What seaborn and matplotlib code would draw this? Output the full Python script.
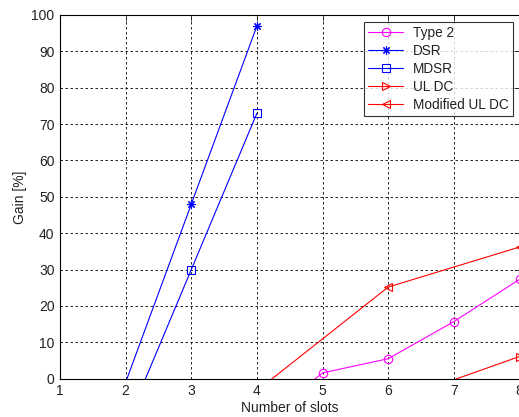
import matplotlib
matplotlib.use("Agg")
import matplotlib.pyplot as plt
import numpy as np
import pandas as pd
import seaborn as sns

# Data (points below 0 are clipped, as in the original)
slots_type2 = [4, 5, 6, 7, 8]
gain_type2 = [-13.0, 1.6, 5.5, 15.7, 27.3]

slots_dsr = [2, 3, 4]
gain_dsr = [-1.0, 48.0, 97.0]

slots_mdsr = [2, 3, 4]
gain_mdsr = [-13.0, 30.0, 73.0]

slots_uldc = [6, 7, 8]
gain_uldc = [-6.0, -0.3, 6.1]

slots_muldc = [4, 6, 8]
gain_muldc = [-3.3, 25.2, 36.2]

x_ticks = [1, 2, 3, 4, 5, 6, 7, 8]
y_ticks = [0, 10, 20, 30, 40, 50, 60, 70, 80, 90, 100]

series = [
    ("Type 2", slots_type2, gain_type2, (1, 0, 1), "o", 6),
    ("DSR", slots_dsr, gain_dsr, (0, 0, 1), (8, 2, 0), 6),
    ("MDSR", slots_mdsr, gain_mdsr, (0, 0, 1), "s", 6),
    ("UL DC", slots_uldc, gain_uldc, (1, 0, 0), ">", 6),
    ("Modified UL DC", slots_muldc, gain_muldc, (1, 0, 0), "<", 6),
]

sns.set_style("white")
plt.rcParams["font.family"] = ["Liberation Sans", "DejaVu Sans"]
plt.rcParams["font.size"] = 10

fig = plt.figure(figsize=(5.19, 4.17), dpi=100)
ax = fig.add_axes([60 / 519, 1 - 378.7 / 417, 459.5 / 519, (378.7 - 15) / 417])

for name, xs, ys, color, marker, ms in series:
    df = pd.DataFrame({"slots": xs, "gain": ys})
    # like MATLAB: markers whose point lies outside the axes are not drawn
    show = [bool(v >= 0) for v in ys]
    sns.lineplot(data=df, x="slots", y="gain", ax=ax, color=color,
                 linewidth=0.8, marker=marker, markersize=ms,
                 markerfacecolor="none", markeredgecolor=color,
                 markeredgewidth=0.8, markevery=show, label=name)

ax.set_xlim(1, 8)
ax.set_ylim(0, 100)
ax.set_xticks(x_ticks)
ax.set_yticks(y_ticks)
ax.grid(True, color="black", linestyle=(0, (3, 3)), linewidth=0.6)
ax.tick_params(direction="in", length=4, width=0.6, top=True, right=True,
               labelsize=10, pad=4, colors="#222222")
for sp in ax.spines.values():
    sp.set_color("black")
    sp.set_linewidth(0.8)
ax.set_xlabel("Number of slots", fontsize=10, labelpad=2, color="#222222")
ax.set_ylabel("Gain [%]", fontsize=10, labelpad=3, color="#222222")

leg = ax.legend(loc="upper right", bbox_to_anchor=(0.985, 0.9816), fontsize=9.8,
                frameon=True, fancybox=False, handlelength=2.6,
                borderpad=0.3, labelspacing=0.3, handletextpad=0.7,
                borderaxespad=0)
leg.get_frame().set_edgecolor("black")
leg.get_frame().set_linewidth(0.8)
for t in leg.get_texts():
    t.set_color("#222222")

fig.savefig("out.png", dpi=100)
